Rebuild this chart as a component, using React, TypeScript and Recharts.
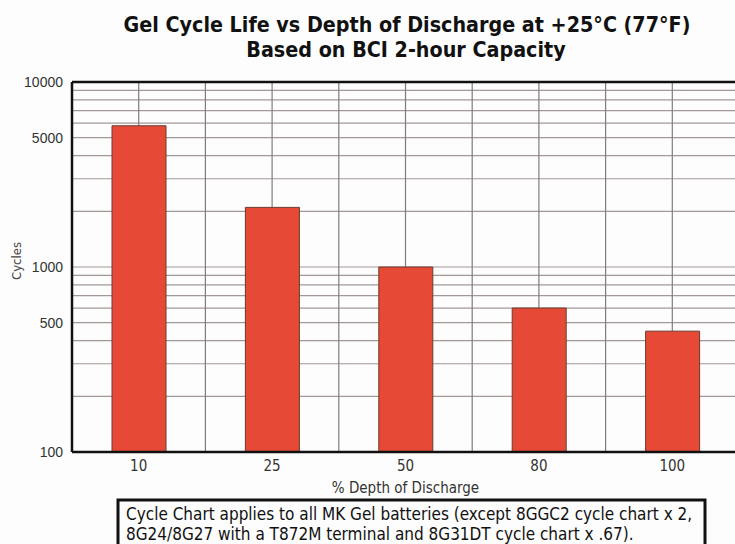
import { BarChart, Bar, XAxis, YAxis, CartesianGrid, ReferenceLine } from "recharts"

const depths = ["10", "25", "50", "80", "100"]
const cycles = [5800, 2100, 1000, 600, 450]
const gridTicks = [100, 200, 300, 400, 500, 600, 700, 800, 900, 1000, 2000, 3000, 4000, 5000, 6000, 7000, 8000, 9000, 10000]
const labeledTicks = [100, 500, 1000, 5000, 10000]

const data = depths.map((d, i) => ({ depth: d, cycles: cycles[i] }))

const narrow = '"Liberation Sans Narrow", "Arial Narrow", "DejaVu Sans Condensed", sans-serif'
const regular = '"Liberation Sans", Arial, sans-serif'

export default function App() {
  return (
    <div style={{ position: "fixed", left: 0, top: 0, width: 735, height: 544, overflow: "hidden", background: "#fdfdfd" }}>
      <BarChart
        width={745}
        height={544}
        data={data}
        barSize={54}
        margin={{ top: 82, right: 6, left: 0, bottom: 62 }}
      >
        <CartesianGrid horizontal={true} vertical={false} stroke="#a39898" strokeWidth={1.2} />
        <CartesianGrid
          horizontal={false}
          vertical={true}
          stroke="#857a7a"
          strokeWidth={1.2}
          verticalCoordinatesGenerator={({ offset }: any) =>
            Array.from({ length: 11 }, (_, i) => offset.left + (i * offset.width) / 10)
          }
        />
        <XAxis
          dataKey="depth"
          height={30}
          tickLine={false}
          tickSize={0}
          tickMargin={8}
          axisLine={{ stroke: "#111", strokeWidth: 2.5 }}
          tick={{ fill: "#333", fontSize: 15, fontFamily: narrow }}
          label={{ value: "% Depth of Discharge", position: "insideBottom", offset: -11, fill: "#333", fontSize: 15, fontFamily: narrow }}
        />
        <YAxis
          width={72}
          scale="log"
          domain={[100, 10000]}
          allowDataOverflow
          ticks={gridTicks}
          interval={0}
          tickLine={false}
          tickSize={6}
          tickMargin={3}
          axisLine={{ stroke: "#111", strokeWidth: 2.5 }}
          tickFormatter={(v: number) => (labeledTicks.includes(v) ? String(v) : "")}
          tick={{ fill: "#333", fontSize: 14, fontFamily: regular }}
        />
        <ReferenceLine y={10000} stroke="#111" strokeWidth={2.5} />
        <Bar dataKey="cycles" fill="#e64a37" stroke="#6a3a2e" strokeWidth={1} isAnimationActive={false} />
      </BarChart>
      <svg width={735} height={544} style={{ position: "absolute", left: 0, top: 0, pointerEvents: "none" }}>
        <text x={407} y={32} textAnchor="middle" fontFamily={narrow} fontWeight="bold" fontSize={21.3} fill="#111">
          Gel Cycle Life vs Depth of Discharge at +25°C (77°F)
        </text>
        <text x={406} y={57} textAnchor="middle" fontFamily={narrow} fontWeight="bold" fontSize={21.3} fill="#111">
          Based on BCI 2-hour Capacity
        </text>
        <text
          x={16}
          y={261}
          transform="rotate(-90 16 261)"
          textAnchor="middle"
          dominantBaseline="central"
          fontFamily={narrow}
          fontSize={13}
          fill="#444"
        >
          Cycles
        </text>
        <rect x={118} y={500} width={587} height={60} fill="#fdfdfd" stroke="#111" strokeWidth={3} />
        <text x={126} y={520} fontFamily={narrow} fontSize={17} fill="#111">
          Cycle Chart applies to all MK Gel batteries (except 8GGC2 cycle chart x 2,
        </text>
        <text x={126} y={540} fontFamily={narrow} fontSize={17} fill="#111">
          8G24/8G27 with a T872M terminal and 8G31DT cycle chart x .67).
        </text>
      </svg>
    </div>
  )
}
